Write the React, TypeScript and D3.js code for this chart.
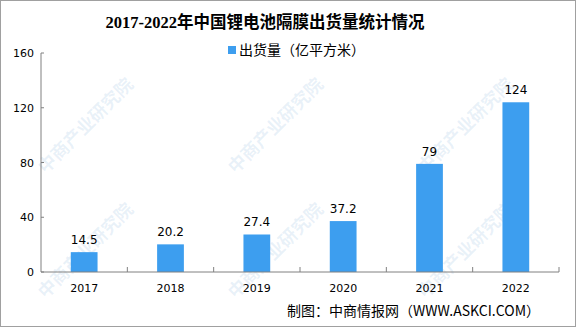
import React from "react";
import * as d3 from "d3";

const years = ["2017", "2018", "2019", "2020", "2021", "2022"];
const shipments = [14.5, 20.2, 27.4, 37.2, 79, 124];
const yTicks = [0, 40, 80, 120, 160];
const labels = ["14.5", "20.2", "27.4", "37.2", "79", "124"];

const W = 576;
const H = 327;
const margin = { top: 53, bottom: 55, left: 41, right: 17 };
const barCol = "#3d9eef";
const axisCol = "#808080";

// faint watermark positions (kept inside the frame)
const marks = [
  [90, 130], [90, 255], [280, 130], [280, 255], [470, 130], [470, 255],
];

export default function App() {
  const x = d3.scaleBand().domain(years).range([margin.left, W - margin.right]);
  const y = d3.scaleLinear().domain([0, 160]).range([H - margin.bottom, margin.top]);
  const barW = x.bandwidth() * 0.31;
  const y0 = y(0);

  return (
    <svg width={W} height={H} style={{ position: "absolute", left: 0, top: 0, fontFamily: "'Noto Sans CJK SC', sans-serif" }}>
      <rect x={0.5} y={0.5} width={W - 1} height={H - 1} fill="#fff" stroke="#a0a0a0" />
      <g fill="rgba(120,170,215,0.16)" fontSize={18} fontWeight="bold">
        {marks.map(([mx, my], i) => (
          <text key={i} transform={`translate(${mx},${my}) rotate(-45)`} textAnchor="middle">中商产业研究院</text>
        ))}
      </g>
      <text x={265} y={28} textAnchor="middle" fontSize={16.5} fontWeight="bold"
        fontFamily="'Liberation Serif', 'Noto Sans CJK SC', serif">2017-2022年中国锂电池隔膜出货量统计情况</text>
      <rect x={228} y={46} width={8} height={8} fill={barCol} />
      <text x={239} y={55} fontSize={14} fill="#000">出货量（亿平方米）</text>

      {/* y axis */}
      <line x1={margin.left} x2={margin.left} y1={y(160)} y2={y0} stroke={axisCol} />
      {yTicks.map((t) => (
        <g key={t}>
          <line x1={margin.left} x2={margin.left + 3} y1={y(t)} y2={y(t)} stroke={axisCol} />
          <text x={margin.left - 7} y={y(t) + 4} textAnchor="end" fontSize={11} fontFamily="'DejaVu Sans', sans-serif">{t}</text>
        </g>
      ))}

      {/* bars */}
      {years.map((yr, i) => {
        const cx = (x(yr) as number) + x.bandwidth() / 2;
        return (
          <g key={yr}>
            <rect x={cx - barW / 2} y={y(shipments[i])} width={barW} height={y0 - y(shipments[i])} fill={barCol} />
            <text x={cx} y={y(shipments[i]) - 8} textAnchor="middle" fontSize={12} fontFamily="'DejaVu Sans', sans-serif">{labels[i]}</text>
            <text x={cx} y={y0 + 20} textAnchor="middle" fontSize={11} fontFamily="'DejaVu Sans', sans-serif">{yr}</text>
          </g>
        );
      })}

      {/* x axis */}
      <line x1={margin.left} x2={W - margin.right} y1={y0} y2={y0} stroke={axisCol} />
      {years.map((yr) => (
        <line key={yr} x1={(x(yr) as number) + x.bandwidth()} x2={(x(yr) as number) + x.bandwidth()} y1={y0} y2={y0 - 5} stroke={axisCol} />
      ))}

      <text x={540} y={316} textAnchor="end" fontSize={14} fill="#000">制图：中商情报网（WWW.ASKCI.COM）</text>
    </svg>
  );
}
